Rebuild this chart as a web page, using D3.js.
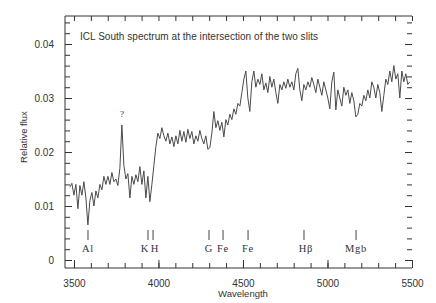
<!DOCTYPE html>
<html>
<head>
<meta charset="utf-8">
<script src="https://cdn.jsdelivr.net/npm/d3@7"></script>
<style>
body { margin: 0; background: #fff; }
text { fill: #333; }
</style>
</head>
<body>
<div id="chart"></div>
<script>
// spectrum sampled on a regular wavelength grid (flux in units of 1e-3)
waveStart = 3476
waveStep = 11.83
fluxE3 = [
  13.5, 14.2, 12.0, 14.0, 9.5, 13.8, 12.0, 14.5, 11.5, 6.5,
  11.0, 12.5, 10.0, 12.8, 11.5, 14.0, 13.0, 15.5, 14.0, 15.5,
  14.0, 16.2, 14.5, 15.0, 13.8, 17.0, 25.0, 17.5, 15.0, 16.0,
  11.5, 15.5, 14.0, 15.8, 14.5, 17.3, 14.0, 16.5, 11.5, 15.5,
  10.8, 14.0, 17.5, 21.0, 23.5, 22.5, 24.5, 23.0, 22.0, 23.5,
  21.5, 22.8, 21.0, 23.0, 21.5, 24.0, 22.0, 23.8, 21.8, 24.2,
  22.5, 23.8, 21.5, 23.0, 22.0, 24.0, 22.5, 21.5, 23.0, 20.5,
  20.8, 23.5, 27.5, 24.5, 25.8, 24.0, 25.5, 22.8, 26.0, 25.0,
  27.0, 26.0, 28.0, 27.0, 29.0, 28.5, 31.0, 33.5, 35.0, 30.0,
  27.5, 33.0, 35.0, 32.0, 33.5, 32.5, 34.5, 31.5, 32.8, 31.0,
  34.0, 32.0, 33.5, 31.0, 29.0, 32.5, 31.5, 33.0, 31.8, 33.5,
  32.0, 33.0, 31.5, 34.5, 35.5, 31.5, 29.5, 32.5, 31.5, 33.0,
  32.0, 33.8, 32.5, 31.0, 33.5, 32.0, 30.5, 33.0, 31.5, 30.0,
  28.0, 33.0, 34.8, 27.8, 31.5, 30.0, 28.5, 32.0, 30.5, 31.5,
  29.0, 31.0, 29.5, 26.5, 27.0, 29.0, 28.5, 30.5, 29.5, 31.5,
  30.0, 33.0, 32.0, 30.0, 32.5, 31.0, 27.5, 30.5, 33.5, 32.5,
  35.0, 33.0, 36.0, 33.5, 34.5, 30.0, 35.0, 33.0, 34.5, 32.5,
  33.0
]
// absorption line markers
lineNames = ["Al", "K", "H", "G", "Fe", "Fe", "H\u03b2", "Mgb"]
lineWaves = [3583, 3938, 3968, 4299, 4382, 4530, 4861, 5169]
xTicks = [3500, 4000, 4500, 5000, 5500]
yTicks = [0, 0.01, 0.02, 0.03, 0.04]

width = 436
height = 303
var svg = d3.select("#chart").append("svg")
    .attr("width", width).attr("height", height)
    .style("font-family", "'Liberation Sans', Arial, sans-serif")

var x = d3.scaleLinear().domain([3447, 5500]).range([65, 412])
var y = d3.scaleLinear().domain([-0.00148, 0.04519]).range([268, 16])

spec = fluxE3.map(function (v, i) { return { w: waveStart + i * waveStep, f: v / 1000 } })

// frame: left, top, bottom (no right line)
svg.append("path")
    .attr("d", "M412,16H65V268H412")
    .attr("fill", "none").attr("stroke", "#333").attr("stroke-width", 1)

minorX = d3.range(3500, 5501, 100)
minorY = d3.range(0, 0.0451, 0.002)

function tickAxis(axis, tx, ty) {
    var g = svg.append("g").attr("transform", "translate(" + tx + "," + ty + ")").call(axis)
    g.select(".domain").remove()
    g.selectAll("line").attr("stroke", "#333")
    return g
}
// minor ticks on all four sides, pointing inward
tickAxis(d3.axisBottom(x).tickValues(minorX).tickSize(-5).tickFormat(""), 0, 268)
tickAxis(d3.axisTop(x).tickValues(minorX).tickSize(-5).tickFormat(""), 0, 16)
tickAxis(d3.axisLeft(y).tickValues(minorY).tickSize(-5).tickFormat(""), 65, 0)
tickAxis(d3.axisRight(y).tickValues(minorY).tickSize(-5).tickFormat(""), 412, 0)
// major ticks with labels
var xa = tickAxis(d3.axisBottom(x).tickValues(xTicks).tickSize(-8).tickPadding(12).tickFormat(d3.format("d")), 0, 268)
xa.selectAll("text").attr("font-size", 10).attr("fill", "#333").attr("font-family", "'Liberation Sans', Arial, sans-serif")
var ya = tickAxis(d3.axisLeft(y).tickValues(yTicks).tickSize(-7).tickPadding(11).tickFormat(function (d) { return d == 0 ? "0" : d3.format(".2f")(d) }), 65, 0)
ya.selectAll("text").attr("font-size", 10).attr("fill", "#333").attr("font-family", "'Liberation Sans', Arial, sans-serif")
tickAxis(d3.axisRight(y).tickValues(yTicks).tickSize(-7).tickFormat(""), 412, 0)

// spectrum
svg.append("path")
    .datum(spec)
    .attr("fill", "none")
    .attr("stroke", "#4a4a4a")
    .attr("stroke-width", 1)
    .attr("d", d3.line().x(function (d) { return x(d.w) }).y(function (d) { return y(d.f) }))

// line markers
labelShift = { "K": -3, "H": 2, "H\u03b2": 2 }
svg.selectAll("line.mark")
    .data(lineWaves)
    .enter().append("line")
    .attr("x1", function (d) { return x(d) }).attr("x2", function (d) { return x(d) })
    .attr("y1", 230).attr("y2", 240)
    .attr("stroke", "#444")
svg.selectAll("text.mark")
    .data(lineNames)
    .enter().append("text")
    .attr("x", function (d, i) { return x(lineWaves[i]) + (labelShift[d] || 0) })
    .attr("y", 252)
    .attr("text-anchor", "middle")
    .attr("font-family", "'Liberation Serif', 'Times New Roman', serif")
    .attr("font-size", 10.5)
    .attr("letter-spacing", 0.8)
    .text(function (d) { return d })

svg.append("text")
    .attr("x", x(3784)).attr("y", 117)
    .attr("text-anchor", "middle")
    .attr("font-family", "'Liberation Serif', serif")
    .attr("font-size", 9)
    .text("?")

// title and axis labels
svg.append("text")
    .attr("x", 80).attr("y", 40)
    .attr("font-size", 10)
    .attr("textLength", 238)
    .attr("lengthAdjust", "spacing")
    .text("ICL South spectrum at the intersection of the two slits")
svg.append("text")
    .attr("x", 243).attr("y", 297)
    .attr("text-anchor", "middle")
    .attr("font-size", 9.5)
    .text("Wavelength")
svg.append("text")
    .attr("transform", "translate(27,137) rotate(-90)")
    .attr("text-anchor", "middle")
    .attr("font-size", 9.5)
    .text("Relative flux")
</script>
</body>
</html>
